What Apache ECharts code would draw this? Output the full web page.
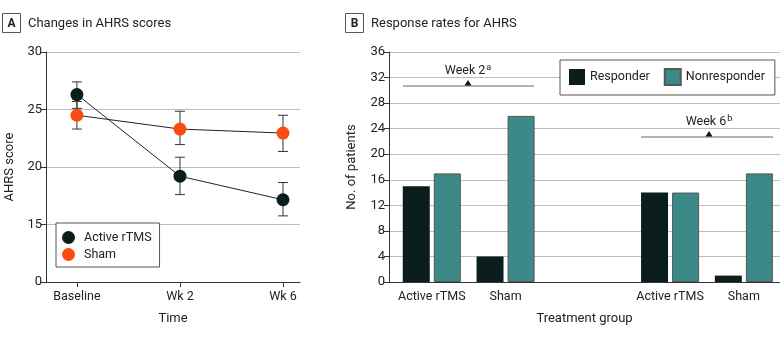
<!DOCTYPE html>
<html>
<head>
<meta charset="utf-8">
<script src="https://cdn.jsdelivr.net/npm/echarts@6/dist/echarts.min.js"></script>
<style>
  html, body { margin: 0; padding: 0; background: #fff; }
  #chart { width: 780px; height: 337px; }
</style>
</head>
<body>
<div id="chart"></div>
<script>
// ===== Panel A data =====
const timePoints = ['Baseline', 'Wk 2', 'Wk 6']
const activeMean = [26.3, 19.2, 17.15]
const activeLow = [25.1, 17.6, 15.75]
const activeHigh = [27.4, 20.85, 18.65]
const shamMean = [24.5, 23.3, 22.95]
const shamLow = [23.3, 21.95, 21.35]
const shamHigh = [25.7, 24.85, 24.5]
const scoreTicks = [0, 15, 20, 25, 30]

// ===== Panel B data =====
const groups = ['Active rTMS', 'Sham', 'Active rTMS', 'Sham']
const responders = [15, 4, 14, 1]
const nonresponders = [17, 26, 14, 17]
const weekLabels = ['Week 2', 'Week 6']
const weekNotes = ['a', 'b']

// slot of each group on the panel B x axis (week 6 cluster sits further right)
const groupSlot = [0, 1, 3.23, 4.23]

const FONT = 'Roboto'
const TEXT = '#222'
const GRID_LINE = '#bdbdbd'
const ACTIVE = '#0b1d1d'
const SHAM = '#fb4b0e'
const TEAL = '#3b8a87'

const chart = echarts.init(document.getElementById('chart'))

// vertical whiskers with caps, drawn through the axis scales
function errorBars(low, high, xAxisIndex, yAxisIndex) {
  return {
    type: 'custom',
    xAxisIndex, yAxisIndex,
    silent: true,
    z: 1,
    data: low.map((v, i) => [i, v, high[i]]),
    renderItem: (params, api) => {
      const lo = api.coord([api.value(0), api.value(1)])
      const hi = api.coord([api.value(0), api.value(2)])
      const half = 5
      const style = { stroke: '#333', lineWidth: 1 }
      return {
        type: 'group',
        children: [
          { type: 'line', shape: { x1: lo[0], y1: lo[1], x2: hi[0], y2: hi[1] }, style },
          { type: 'line', shape: { x1: lo[0] - half, y1: lo[1], x2: lo[0] + half, y2: lo[1] }, style },
          { type: 'line', shape: { x1: hi[0] - half, y1: hi[1], x2: hi[0] + half, y2: hi[1] }, style },
        ],
      }
    },
  }
}

function titleBox(x, letter, label) {
  return {
    type: 'group',
    left: x, top: 13,
    children: [
      { type: 'rect', shape: { x: 0.5, y: 0.5, width: 18, height: 19 }, style: { fill: '#fff', stroke: '#555', lineWidth: 1 } },
      { type: 'text', x: 9.5, y: 10.5, style: { text: letter, font: `bold 12px ${FONT}`, fill: TEXT, align: 'center', verticalAlign: 'middle' } },
      { type: 'text', x: 26, y: 10.5, style: { text: label, font: `13px ${FONT}`, fill: TEXT, verticalAlign: 'middle' } },
    ],
  }
}

function weekNote(cx, y, x1, x2, label, note) {
  return {
    type: 'group',
    children: [
      { type: 'text', x: cx, y: y - 15, style: { text: `{t|${label}}{s|${note}}`, align: 'center', verticalAlign: 'middle',
          rich: { t: { font: `12.5px ${FONT}`, fill: TEXT }, s: { font: `9px ${FONT}`, fill: TEXT, verticalAlign: 'top', padding: [0, 0, 7, 1] } } } },
      { type: 'line', shape: { x1, y1: y, x2, y2: y }, style: { stroke: '#9a9a9a', lineWidth: 1.5 } },
      { type: 'polygon', shape: { points: [[cx - 3.5, y - 0.5], [cx + 3.5, y - 0.5], [cx, y - 6]] }, style: { fill: '#111' } },
    ],
  }
}

const tickText = { fontFamily: FONT, fontSize: 13, color: TEXT }
const catText = { fontFamily: FONT, fontSize: 12.5, color: TEXT }
const nameText = { fontFamily: FONT, fontSize: 13, color: TEXT }

chart.setOption({
  animation: false,
  textStyle: { fontFamily: FONT },
  grid: [
    { left: 46, right: 480, top: 52, bottom: 55, outerBoundsMode: 'none', containLabel: false },
    { left: 389, right: 0, top: 52, bottom: 55, outerBoundsMode: 'none', containLabel: false },
  ],
  xAxis: [
    {
      gridIndex: 0,
      type: 'value',
      position: 'bottom',
      min: -0.3, max: 2.165,
      name: 'Time', nameLocation: 'middle', nameGap: 30,
      nameTextStyle: nameText,
      splitLine: { show: false },
      axisLine: { onZero: false, lineStyle: { color: '#333' } },
      axisTick: { customValues: [0, 1, 2], length: 5, lineStyle: { color: '#333' } },
      axisLabel: { ...catText, customValues: [0, 1, 2], margin: 8, formatter: (v) => timePoints[Math.round(v)] },
    },
    {
      gridIndex: 1,
      type: 'value',
      position: 'bottom',
      min: -0.58, max: 4.72,
      name: 'Treatment group', nameLocation: 'middle', nameGap: 30,
      nameTextStyle: nameText,
      splitLine: { show: false },
      axisLine: { onZero: false, lineStyle: { color: '#333' } },
      axisTick: { show: false },
      axisLabel: { ...catText, customValues: groupSlot, margin: 8,
        formatter: (v) => groups[groupSlot.findIndex(s => Math.abs(s - v) < 0.01)] },
    },
  ],
  yAxis: [
    {
      gridIndex: 0,
      type: 'value',
      min: 10, max: 30, interval: 5,
      name: 'AHRS score', nameLocation: 'middle', nameGap: 30,
      nameTextStyle: nameText,
      axisLine: { show: true, onZero: false, lineStyle: { color: '#333' } },
      axisTick: { show: true, length: 5, lineStyle: { color: '#333' } },
      // axis is broken below 15: the bottom tick stands for 0
      axisLabel: { ...tickText, margin: 4, formatter: (v) => v === 10 ? String(scoreTicks[0]) : String(v) },
      splitLine: { lineStyle: { color: GRID_LINE } },
    },
    {
      gridIndex: 1,
      type: 'value',
      min: 0, max: 36, interval: 4,
      name: 'No. of patients', nameLocation: 'middle', nameGap: 31,
      nameTextStyle: nameText,
      axisLine: { show: true, onZero: false, lineStyle: { color: '#333' } },
      axisTick: { show: true, length: 5, lineStyle: { color: '#333' } },
      axisLabel: { ...tickText, margin: 4 },
      splitLine: { lineStyle: { color: GRID_LINE } },
    },
  ],
  legend: [
    {
      data: ['Active rTMS', 'Sham'],
      orient: 'vertical',
      left: 56, top: 223,
      padding: [8, 8, 6, 6],
      itemGap: 4,
      itemWidth: 13, itemHeight: 13,
      icon: 'circle',
      backgroundColor: '#fff',
      borderColor: '#555', borderWidth: 1, borderRadius: 0,
      textStyle: { ...catText, padding: [0, 0, 0, 4] },
    },
    {
      data: ['Responder', 'Nonresponder'],
      orient: 'horizontal',
      left: 560, top: 60, width: 240,
      padding: [8, 10, 9, 9],
      itemGap: 14,
      itemWidth: 16, itemHeight: 16,
      icon: 'rect',
      backgroundColor: '#fff',
      borderColor: '#555', borderWidth: 1, borderRadius: 0,
      textStyle: { ...catText, fontSize: 12.5 },
    },
  ],
  graphic: [
    titleBox(2, 'A', 'Changes in AHRS scores'),
    titleBox(345, 'B', 'Response rates for AHRS'),
    weekNote(468, 86, 403, 534, weekLabels[0], weekNotes[0]),
    weekNote(709, 137, 641, 773, weekLabels[1], weekNotes[1]),
  ],
  series: [
    errorBars(activeLow, activeHigh, 0, 0),
    errorBars(shamLow, shamHigh, 0, 0),
    {
      name: 'Active rTMS', type: 'line', xAxisIndex: 0, yAxisIndex: 0,
      data: activeMean.map((v, i) => [i, v]),
      symbol: 'circle', symbolSize: 13, z: 3,
      lineStyle: { color: '#222', width: 1 },
      itemStyle: { color: ACTIVE },
    },
    {
      name: 'Sham', type: 'line', xAxisIndex: 0, yAxisIndex: 0,
      data: shamMean.map((v, i) => [i, v]),
      symbol: 'circle', symbolSize: 13, z: 3,
      lineStyle: { color: '#222', width: 1 },
      itemStyle: { color: SHAM },
    },
    {
      name: 'Responder', type: 'bar', xAxisIndex: 1, yAxisIndex: 1,
      data: responders.map((v, i) => [groupSlot[i], v]),
      barWidth: 27, barGap: '15%',
      itemStyle: { color: ACTIVE },
    },
    {
      name: 'Nonresponder', type: 'bar', xAxisIndex: 1, yAxisIndex: 1,
      data: nonresponders.map((v, i) => [groupSlot[i], v]),
      barWidth: 27, barGap: '15%',
      itemStyle: { color: TEAL, borderColor: '#555', borderWidth: 1 },
    },
  ],
})
</script>
</body>
</html>
